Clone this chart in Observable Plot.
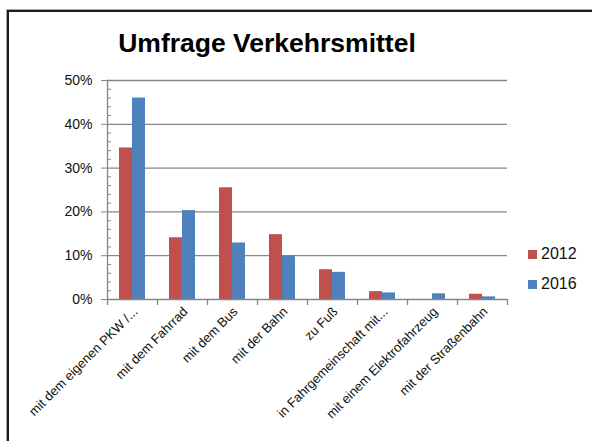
<!DOCTYPE html>
<html><head><meta charset="utf-8">
<script src="https://cdn.jsdelivr.net/npm/d3@7"></script>
<script src="https://cdn.jsdelivr.net/npm/@observablehq/plot@0.6"></script>
<style>
body{margin:0;background:#fff;font-family:"Liberation Sans",Arial,sans-serif;}
#wrap{position:relative;width:592px;height:441px;overflow:hidden;background:#fff;}
#wrap svg{position:absolute;left:0;top:0;}
#frame{position:absolute;left:7px;top:10px;width:700px;height:500px;border-left:2.5px solid #1c1c1c;border-top:2.5px solid #1c1c1c;box-shadow:-1px -1px 0 #aaa;pointer-events:none;}
#title{position:absolute;left:0;width:534px;top:30px;text-align:center;font-weight:bold;font-size:26.5px;line-height:26px;color:#000;}
.leg{position:absolute;left:528px;display:flex;align-items:center;font-size:16px;line-height:16px;height:16px;color:#111;}
.sw{width:8.5px;height:8.5px;margin-right:4.5px;}
</style></head><body><div id="wrap"></div>
<script>
const titleText = "Umfrage Verkehrsmittel";
const categories = [
  "mit dem eigenen PKW /...",
  "mit dem Fahrrad",
  "mit dem Bus",
  "mit der Bahn",
  "zu Fuß",
  "in Fahrgemeinschaft mit...",
  "mit einem Elektrofahrzeug",
  "mit der Straßenbahn"
];
const years = ["2012", "2016"];
const values2012 = [34.6, 14.1, 25.5, 14.8, 6.8, 1.8, 0, 1.2];
const values2016 = [46.0, 20.3, 12.9, 9.9, 6.2, 1.5, 1.3, 0.6];
const colors = ["#C0504D", "#4F81BD"];
const yTicks = [0, 10, 20, 30, 40, 50];
const yGrid = [10, 20, 30, 40, 50];
const yMinorTicks = [2, 4, 6, 8, 12, 14, 16, 18, 22, 24, 26, 28, 32, 34, 36, 38, 42, 44, 46, 48];

const rows = [];
categories.forEach((c, i) => {
  rows.push({cat: c, year: years[0], value: values2012[i]});
  rows.push({cat: c, year: years[1], value: values2016[i]});
});

const W = 592, H = 441, mL = 107, mR = 85, mT = 80, mB = 142;
const half = (W - mL - mR) / categories.length / 2;
const axisColor = "#868686";

const chart = Plot.plot({
  width: W, height: H,
  marginLeft: mL, marginRight: mR, marginTop: mT, marginBottom: mB,
  style: {background: "transparent", fontFamily: "'Liberation Sans', Arial, sans-serif", color: "#000"},
  fx: {domain: categories, padding: 0, label: null},
  x: {domain: years, paddingInner: 0, paddingOuter: 0.786, axis: null},
  y: {domain: [0, 50], label: null},
  color: {domain: years, range: colors},
  marks: [
    Plot.ruleY(yGrid, {stroke: axisColor, strokeWidth: 1.3}),
    Plot.barY(rows, {fx: "cat", x: "year", y: "value", fill: "year"}),
    Plot.ruleY([0], {stroke: axisColor, strokeWidth: 1.3}),
    Plot.frame({anchor: "left", stroke: axisColor, strokeWidth: 1.3, facetAnchor: "left"}),
    Plot.axisY({ticks: yTicks, tickSize: 6, tickPadding: 9, stroke: axisColor, fill: "#111", fontSize: 14, tickFormat: d => d + "%", label: null}),
    Plot.axisY({ticks: yMinorTicks, tickSize: 4, dx: 4, stroke: axisColor, fill: "none", label: null}),
    Plot.axisFx({anchor: "bottom", tickSize: 6, dx: -half, stroke: axisColor, strokeWidth: 1.3, fill: "none", label: null}),
    Plot.axisFx({anchor: "bottom", ticks: [categories[categories.length - 1]], tickSize: 6, dx: half, stroke: axisColor, strokeWidth: 1.3, fill: "none", label: null}),
    Plot.axisFx({anchor: "bottom", tickSize: 0, tickPadding: 10, dx: 3, tickRotate: -45, fontSize: 13, fill: "#111", label: null})
  ]
});

const wrap = document.getElementById("wrap");
wrap.appendChild(chart);
const t = document.createElement("div");
t.id = "title"; t.textContent = titleText; wrap.appendChild(t);
years.forEach((y, i) => {
  const d = document.createElement("div");
  d.className = "leg";
  d.style.top = (246.3 + i * 30) + "px";
  const s = document.createElement("div");
  s.className = "sw"; s.style.background = colors[i];
  d.appendChild(s);
  const tx = document.createElement("span");
  tx.textContent = y;
  d.appendChild(tx);
  wrap.appendChild(d);
});
const f = document.createElement("div");
f.id = "frame"; wrap.appendChild(f);
</script>
</body></html>
